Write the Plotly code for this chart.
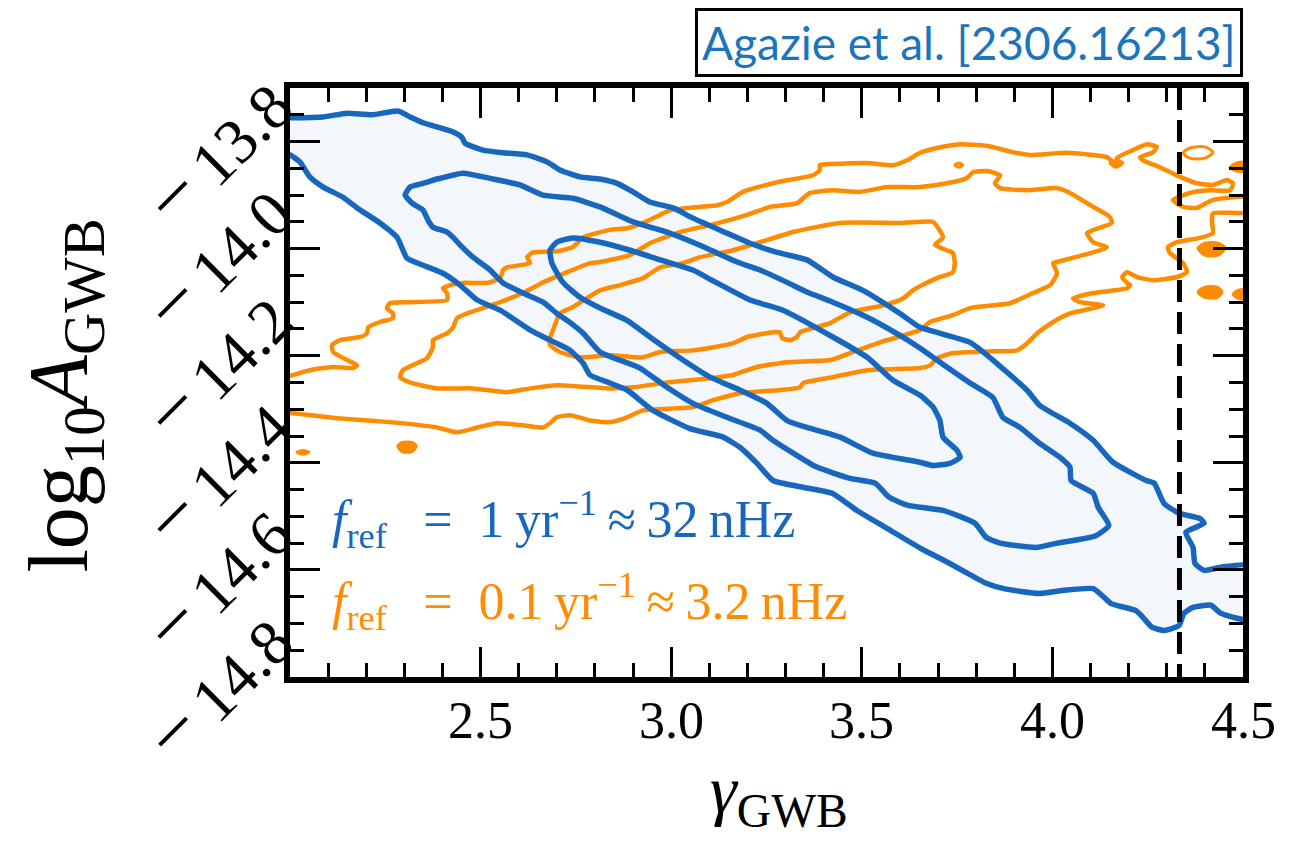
import plotly.graph_objects as go

# ---------------- data ----------------
X_TICKS = [2.5, 3.0, 3.5, 4.0, 4.5]
X_TICK_TEXT = ["2.5", "3.0", "3.5", "4.0", "4.5"]
Y_TICKS = [-14.8, -14.6, -14.4, -14.2, -14.0, -13.8]
Y_TICK_TEXT = ["14.8", "14.6", "14.4", "14.2", "14.0", "13.8"]   # drawn with a leading minus sign
GAMMA_SMBHB = 13.0 / 3.0   # dashed reference line

# Blue contours (f_ref = 1/yr), (gamma, log10 A) vertices
BLUE_OUTER = [
    (1.98, -13.756), (2.087, -13.754), (2.150, -13.747), (2.215, -13.750), (2.283, -13.743),
    (2.315, -13.754), (2.349, -13.765), (2.428, -13.782), (2.451, -13.792), (2.459, -13.803),
    (2.506, -13.816), (2.559, -13.821), (2.622, -13.825), (2.674, -13.838), (2.708, -13.853),
    (2.761, -13.866), (2.813, -13.870), (2.858, -13.878), (2.900, -13.894), (2.944, -13.913),
    (3.005, -13.924), (3.057, -13.943), (3.146, -13.971), (3.207, -13.990), (3.278, -14.007),
    (3.356, -14.021), (3.424, -14.053), (3.503, -14.078), (3.600, -14.121), (3.653, -14.147),
    (3.784, -14.175), (3.844, -14.208), (3.933, -14.264), (3.967, -14.293), (4.046, -14.326),
    (4.107, -14.358), (4.159, -14.399), (4.246, -14.433), (4.267, -14.438), (4.293, -14.476),
    (4.332, -14.494), (4.387, -14.504), (4.398, -14.513), (4.350, -14.530), (4.369, -14.558),
    (4.374, -14.588), (4.398, -14.601), (4.442, -14.595), (4.52, -14.592), (4.52, -14.693),
    (4.442, -14.681), (4.416, -14.666), (4.369, -14.670), (4.345, -14.681), (4.332, -14.704),
    (4.293, -14.713), (4.261, -14.707), (4.238, -14.689), (4.219, -14.676), (4.154, -14.663),
    (4.135, -14.651), (4.107, -14.635), (4.030, -14.638), (3.965, -14.644), (3.873, -14.635),
    (3.826, -14.625), (3.731, -14.588), (3.655, -14.560), (3.563, -14.521), (3.487, -14.489),
    (3.422, -14.457), (3.348, -14.446), (3.267, -14.433), (3.225, -14.401), (3.180, -14.371),
    (3.136, -14.352), (3.049, -14.336), (2.952, -14.302), (2.884, -14.264), (2.839, -14.251),
    (2.787, -14.236), (2.769, -14.214), (2.735, -14.190), (2.700, -14.177), (2.630, -14.152),
    (2.551, -14.115), (2.491, -14.096), (2.446, -14.068), (2.401, -14.046), (2.349, -14.031),
    (2.307, -14.018), (2.281, -13.979), (2.236, -13.952), (2.176, -13.924), (2.139, -13.904),
    (2.087, -13.885), (2.052, -13.866), (2.026, -13.838), (2.000, -13.825), (1.98, -13.820),
]
BLUE_MID = [
    (2.315, -13.885), (2.349, -13.878), (2.386, -13.870), (2.454, -13.859), (2.533, -13.870),
    (2.603, -13.881), (2.664, -13.900), (2.742, -13.906), (2.813, -13.922), (2.900, -13.950),
    (2.989, -13.969), (3.057, -13.988), (3.120, -14.008), (3.173, -14.025), (3.233, -14.040),
    (3.304, -14.063), (3.356, -14.081), (3.424, -14.100), (3.514, -14.128), (3.600, -14.162),
    (3.653, -14.186), (3.723, -14.221), (3.784, -14.251), (3.844, -14.278), (3.870, -14.315),
    (3.915, -14.334), (3.967, -14.364), (4.020, -14.390), (4.046, -14.408), (4.049, -14.433),
    (4.107, -14.457), (4.120, -14.483), (4.148, -14.517), (4.114, -14.536), (4.012, -14.550),
    (3.957, -14.558), (3.863, -14.550), (3.826, -14.539), (3.797, -14.513), (3.713, -14.489),
    (3.619, -14.479), (3.571, -14.464), (3.535, -14.438), (3.469, -14.429), (3.382, -14.408),
    (3.320, -14.382), (3.267, -14.358), (3.233, -14.339), (3.146, -14.315), (3.057, -14.289),
    (2.989, -14.259), (2.918, -14.223), (2.813, -14.193), (2.769, -14.158), (2.727, -14.134),
    (2.700, -14.121), (2.664, -14.100), (2.611, -14.083), (2.559, -14.064), (2.525, -14.040),
    (2.480, -14.016), (2.446, -13.993), (2.428, -13.979), (2.412, -13.969), (2.375, -13.960),
    (2.362, -13.947), (2.349, -13.928), (2.320, -13.915), (2.302, -13.900), (2.315, -13.885),
]
BLUE_INNER = [
    (2.700, -13.988), (2.742, -13.980), (2.813, -13.988), (2.892, -14.003), (2.971, -14.021),
    (3.057, -14.040), (3.107, -14.059), (3.207, -14.096), (3.293, -14.115), (3.424, -14.165),
    (3.514, -14.203), (3.582, -14.246), (3.653, -14.274), (3.687, -14.296), (3.705, -14.321),
    (3.713, -14.352), (3.750, -14.377), (3.758, -14.390), (3.731, -14.401), (3.687, -14.405),
    (3.653, -14.399), (3.529, -14.382), (3.443, -14.352), (3.356, -14.334), (3.304, -14.321),
    (3.251, -14.289), (3.180, -14.264), (3.102, -14.240), (3.031, -14.208), (2.944, -14.165),
    (2.884, -14.134), (2.813, -14.111), (2.761, -14.091), (2.716, -14.063), (2.687, -14.027),
    (2.682, -14.003), (2.700, -13.988),
]

# Orange contours (f_ref = 0.1/yr)
ORANGE_INNER = [
    (2.682, -14.180), (2.682, -14.167), (2.690, -14.152), (2.708, -14.121), (2.742, -14.109),
    (2.813, -14.078), (2.866, -14.068), (2.926, -14.055), (2.971, -14.035), (3.031, -14.027),
    (3.076, -14.016), (3.162, -14.003), (3.251, -13.984), (3.320, -13.969), (3.443, -13.952),
    (3.600, -13.952), (3.653, -13.950), (3.687, -13.950), (3.713, -13.979), (3.692, -13.993),
    (3.723, -14.003), (3.739, -14.008), (3.744, -14.027), (3.739, -14.044), (3.697, -14.055),
    (3.653, -14.070), (3.634, -14.078), (3.608, -14.093), (3.556, -14.106), (3.469, -14.119),
    (3.417, -14.139), (3.338, -14.156), (3.330, -14.165), (3.312, -14.171), (3.291, -14.167),
    (3.285, -14.156), (3.267, -14.156), (3.199, -14.165), (3.162, -14.177), (3.057, -14.190),
    (2.971, -14.193), (2.926, -14.203), (2.839, -14.199), (2.761, -14.203), (2.708, -14.193),
    (2.682, -14.180),
]
ORANGE_MID = [
    (2.289, -14.240), (2.296, -14.227), (2.333, -14.214), (2.359, -14.205), (2.375, -14.184),
    (2.375, -14.171), (2.412, -14.158), (2.428, -14.147), (2.438, -14.130), (2.472, -14.119),
    (2.543, -14.102), (2.611, -14.083), (2.664, -14.063), (2.727, -14.044), (2.787, -14.027),
    (2.813, -14.025), (2.892, -14.012), (2.944, -13.990), (3.023, -13.969), (3.102, -13.956),
    (3.199, -13.937), (3.259, -13.922), (3.330, -13.915), (3.364, -13.896), (3.424, -13.891),
    (3.495, -13.894), (3.566, -13.885), (3.653, -13.885), (3.723, -13.878), (3.776, -13.868),
    (3.792, -13.857), (3.828, -13.855), (3.863, -13.863), (3.849, -13.878), (3.863, -13.887),
    (3.933, -13.891), (4.012, -13.887), (4.046, -13.896), (4.107, -13.922), (4.151, -13.941),
    (4.156, -13.952), (4.091, -13.971), (4.107, -13.988), (4.143, -13.997), (4.125, -14.003),
    (4.012, -14.025), (4.002, -14.027), (4.012, -14.046), (3.994, -14.068), (3.949, -14.083),
    (3.889, -14.102), (3.784, -14.111), (3.739, -14.124), (3.679, -14.137), (3.653, -14.152),
    (3.548, -14.175), (3.477, -14.193), (3.417, -14.208), (3.304, -14.212), (3.225, -14.221),
    (3.162, -14.236), (3.102, -14.242), (2.989, -14.250), (2.900, -14.259), (2.839, -14.261),
    (2.700, -14.255), (2.630, -14.261), (2.569, -14.268), (2.480, -14.261), (2.386, -14.261),
    (2.315, -14.250), (2.289, -14.240),
]
ORANGE_OUTER = [
    (1.98, -14.242), (2.052, -14.227), (2.113, -14.221), (2.165, -14.223), (2.176, -14.218),
    (2.150, -14.208), (2.113, -14.193), (2.110, -14.180), (2.131, -14.171), (2.184, -14.165),
    (2.202, -14.158), (2.205, -14.147), (2.236, -14.137), (2.270, -14.130), (2.270, -14.121),
    (2.254, -14.111), (2.262, -14.102), (2.307, -14.100), (2.412, -14.096), (2.412, -14.083),
    (2.401, -14.074), (2.420, -14.068), (2.454, -14.064), (2.517, -14.064), (2.551, -14.055),
    (2.559, -14.040), (2.569, -14.035), (2.630, -14.027), (2.622, -14.016), (2.637, -14.007),
    (2.700, -14.005), (2.742, -13.997), (2.769, -13.979), (2.839, -13.965), (2.884, -13.962),
    (2.926, -13.952), (2.971, -13.937), (2.997, -13.928), (3.041, -13.924), (3.120, -13.919),
    (3.146, -13.913), (3.188, -13.894), (3.278, -13.876), (3.372, -13.863), (3.390, -13.853),
    (3.390, -13.844), (3.424, -13.842), (3.514, -13.840), (3.582, -13.844), (3.619, -13.835),
    (3.653, -13.821), (3.697, -13.812), (3.758, -13.805), (3.828, -13.808), (3.897, -13.820),
    (3.941, -13.825), (4.038, -13.821), (4.143, -13.829), (4.159, -13.838), (4.177, -13.840),
    (4.169, -13.831), (4.211, -13.816), (4.248, -13.805), (4.274, -13.810), (4.264, -13.820),
    (4.230, -13.829), (4.238, -13.835), (4.282, -13.848), (4.335, -13.866), (4.379, -13.878),
    (4.421, -13.881), (4.458, -13.872), (4.474, -13.878), (4.466, -13.891), (4.413, -13.891),
    (4.361, -13.896), (4.316, -13.909), (4.343, -13.922), (4.379, -13.924), (4.421, -13.909),
    (4.52, -13.904), (4.52, -13.932), (4.421, -13.934), (4.419, -13.952), (4.421, -13.971),
    (4.387, -13.980), (4.327, -13.988), (4.303, -13.997), (4.308, -14.008), (4.343, -14.027),
    (4.353, -14.044), (4.327, -14.053), (4.264, -14.059), (4.222, -14.053), (4.196, -14.044),
    (4.183, -14.053), (4.196, -14.064), (4.204, -14.068), (4.196, -14.074), (4.107, -14.083),
    (4.054, -14.093), (4.072, -14.100), (4.133, -14.106), (4.107, -14.111), (4.046, -14.121),
    (4.002, -14.137), (3.960, -14.158), (3.933, -14.177), (3.907, -14.190), (3.828, -14.192),
    (3.739, -14.195), (3.697, -14.205), (3.679, -14.218), (3.653, -14.223), (3.514, -14.227),
    (3.424, -14.240), (3.346, -14.251), (3.338, -14.259), (3.285, -14.264), (3.180, -14.270),
    (3.110, -14.283), (3.057, -14.296), (2.926, -14.302), (2.884, -14.315), (2.839, -14.324),
    (2.787, -14.321), (2.735, -14.311), (2.700, -14.315), (2.682, -14.326), (2.664, -14.334),
    (2.611, -14.330), (2.543, -14.326), (2.491, -14.334), (2.438, -14.343), (2.386, -14.334),
    (2.262, -14.324), (2.131, -14.317), (2.000, -14.307), (1.98, -14.307),
]
# small orange contour islands
ORANGE_RINGS = [
    [(4.343, -13.821), (4.361, -13.812), (4.400, -13.810), (4.421, -13.820), (4.400, -13.831),
     (4.361, -13.831), (4.343, -13.821)],
    [(3.744, -13.844), (3.755, -13.840), (3.765, -13.844), (3.755, -13.848), (3.744, -13.844)],
]
ORANGE_BLOBS = [
    [(4.466, -13.848), (4.484, -13.840), (4.52, -13.840), (4.52, -13.855), (4.484, -13.855), (4.466, -13.848)],
    [(4.382, -13.999), (4.400, -13.990), (4.434, -13.990), (4.453, -13.999), (4.434, -14.012), (4.400, -14.012), (4.382, -13.999)],
    [(4.382, -14.081), (4.400, -14.072), (4.432, -14.072), (4.445, -14.081), (4.432, -14.091), (4.400, -14.091), (4.382, -14.081)],
    [(4.474, -14.085), (4.487, -14.078), (4.52, -14.078), (4.52, -14.093), (4.487, -14.093), (4.474, -14.085)],
    [(2.283, -14.369), (2.294, -14.362), (2.320, -14.362), (2.331, -14.369), (2.320, -14.379), (2.294, -14.379), (2.283, -14.369)],
    [(2.018, -14.380), (2.034, -14.377), (2.050, -14.380), (2.034, -14.384), (2.018, -14.380)],
    [(4.151, -13.840), (4.167, -13.835), (4.185, -13.840), (4.167, -13.848), (4.151, -13.840)],
]

EQ = "\u2002\u2009=\u2002"
FREF = "<i>f</i><sub>ref</sub>"
LABEL_BLUE = FREF + EQ + "1\u2009yr<sup>\u22121</sup>\u2009\u2248\u200932\u2009nHz"
LABEL_ORANGE = FREF + EQ + "0.1\u2009yr<sup>\u22121</sup>\u2009\u2248\u20093.2\u2009nHz"
CITATION = "Agazie et al. [2306.16213]"

# ---------------- styling ----------------
BLUE = "#1767bf"
ORANGE = "#ff8c00"
SERIF = "Liberation Serif"
MINUS = '<span style="font-size:82px">\u2212</span>\u2009'


def xy(pairs):
    return [p[0] for p in pairs], [p[1] for p in pairs]


fig = go.Figure()

bx, by = xy(BLUE_OUTER)
fig.add_trace(go.Scatter(x=bx, y=by, mode="lines", fill="toself",
                         fillcolor="rgba(23,103,191,0.05)",
                         line=dict(width=0, shape="spline", smoothing=0.5),
                         hoverinfo="skip"))

for poly in [ORANGE_OUTER, ORANGE_MID, ORANGE_INNER]:
    ox, oy = xy(poly)
    fig.add_trace(go.Scatter(x=ox, y=oy, mode="lines",
                             line=dict(color=ORANGE, width=4.5, shape="spline", smoothing=0.5),
                             hoverinfo="skip"))
for poly in ORANGE_RINGS:
    ox, oy = xy(poly)
    fig.add_trace(go.Scatter(x=ox, y=oy, mode="lines",
                             line=dict(color=ORANGE, width=3, shape="spline", smoothing=0.8),
                             hoverinfo="skip"))
for poly in ORANGE_BLOBS:
    ox, oy = xy(poly)
    fig.add_trace(go.Scatter(x=ox, y=oy, mode="lines", fill="toself", fillcolor=ORANGE,
                             line=dict(color=ORANGE, width=3, shape="spline", smoothing=0.8),
                             hoverinfo="skip"))

for poly in [BLUE_OUTER, BLUE_MID, BLUE_INNER]:
    cx, cy = xy(poly)
    fig.add_trace(go.Scatter(x=cx, y=cy, mode="lines",
                             line=dict(color=BLUE, width=5.5, shape="spline", smoothing=0.5),
                             hoverinfo="skip"))

axis_common = dict(showline=True, linewidth=6, linecolor="black", mirror="allticks",
                   ticks="inside", ticklen=30, tickwidth=3, tickcolor="black",
                   showgrid=False, zeroline=False, showticklabels=False)

fig.update_xaxes(range=[2.0, 4.5], tickmode="array", tickvals=X_TICKS,
                 minor=dict(ticks="inside", ticklen=14, tickwidth=3, tickcolor="black",
                            tickmode="linear", tick0=2.0, dtick=0.1),
                 **axis_common)
fig.update_yaxes(range=[-14.8, -13.7], tickmode="array", tickvals=Y_TICKS,
                 minor=dict(ticks="inside", ticklen=14, tickwidth=3, tickcolor="black",
                            tickmode="linear", tick0=-14.8, dtick=0.05),
                 **axis_common)

annotations = []
for v, t in zip(X_TICKS, X_TICK_TEXT):
    annotations.append(dict(x=v, xref="x", y=-0.074, yref="paper", text=t,
                            xanchor="center", yanchor="middle", showarrow=False,
                            font=dict(family=SERIF, size=52, color="black")))
for v, t in zip(Y_TICKS, Y_TICK_TEXT):
    annotations.append(dict(x=-0.077, xref="paper", y=v, yref="y", yshift=-10, text=MINUS + t,
                            xanchor="center", yanchor="middle",
                            showarrow=False, textangle=-45,
                            font=dict(family=SERIF, size=64, color="black")))
annotations += [
    dict(x=0.513, xref="paper", y=-0.2, yref="paper", text="<i>\u03b3</i><sub>GWB</sub>",
         xanchor="center", yanchor="middle",
         showarrow=False, font=dict(family=SERIF, size=68, color="black")),
    dict(x=-0.236, xref="paper", y=0.478, yref="paper", textangle=-90,
         xanchor="center", yanchor="middle",
         text="log<sub>10</sub><i>A</i><sub>GWB</sub>",
         showarrow=False, font=dict(family=SERIF, size=84, color="black")),
    dict(x=0.042, xref="paper", y=0.267, yref="paper", xanchor="left", yanchor="middle",
         text=LABEL_BLUE, showarrow=False, font=dict(family=SERIF, size=52, color=BLUE)),
    dict(x=0.042, xref="paper", y=0.128, yref="paper", xanchor="left", yanchor="middle",
         text=LABEL_ORANGE, showarrow=False, font=dict(family=SERIF, size=52, color=ORANGE)),
    dict(x=0.713, xref="paper", y=1.077, yref="paper", xanchor="center", yanchor="middle",
         text=CITATION, showarrow=False, bordercolor="black", borderwidth=3, borderpad=4,
         bgcolor="white", font=dict(family="Lato", size=46, color="#1b75bc")),
]

fig.update_layout(
    width=1290, height=848,
    margin=dict(l=290, r=47, t=88, b=171),
    paper_bgcolor="white", plot_bgcolor="white",
    showlegend=False,
    annotations=annotations,
    shapes=[dict(type="line", xref="x", yref="paper", x0=GAMMA_SMBHB, x1=GAMMA_SMBHB,
                 y0=1, y1=0, layer="above",
                 line=dict(color="black", width=5, dash="22px,10px"))],
)

fig.write_html("out.html")
